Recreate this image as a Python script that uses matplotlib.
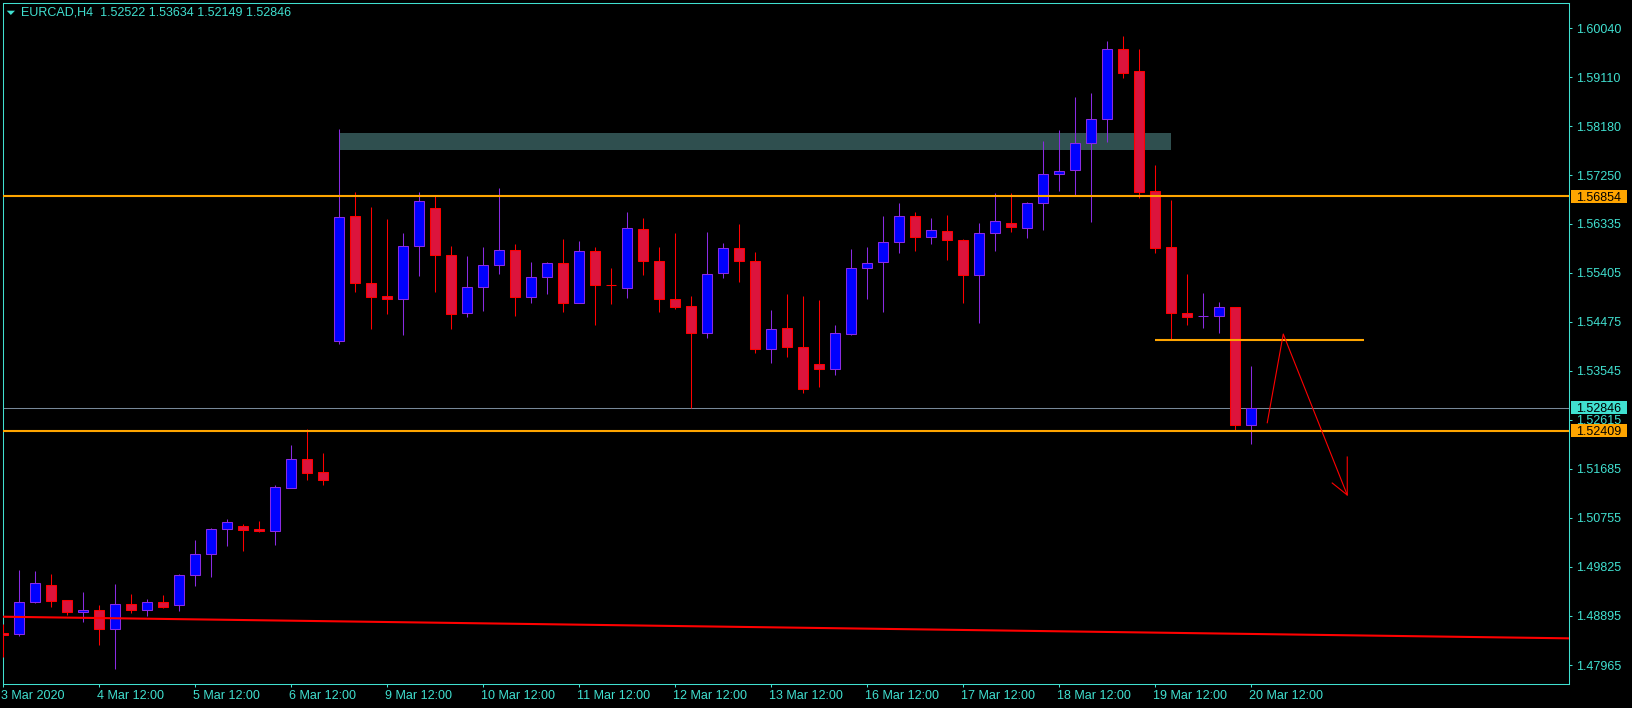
import matplotlib.pyplot as plt
from matplotlib.patches import Rectangle, Polygon
from matplotlib.transforms import blended_transform_factory

plt.rcParams["font.family"] = ["Liberation Sans", "DejaVu Sans"]

# EURCAD H4 bars, index 0 = 3 Mar 12:00 ... index 78 = 20 Mar 12:00
opens = [
    1.48566, 1.48547, 1.49154, 1.49482, 1.49192, 1.48964, 1.49008, 1.48653, 1.49122, 1.49014,
    1.49160, 1.49097, 1.49666, 1.50064, 1.50539, 1.50601, 1.50544, 1.50512, 1.51328, 1.51866,
    1.51620, 1.54104, 1.56475, 1.55204, 1.54957, 1.54901, 1.55906, 1.56626, 1.55735, 1.54635,
    1.55128, 1.55545, 1.55830, 1.54950, 1.55318, 1.55583, 1.54825, 1.55811, 1.55167, 1.55109,
    1.56228, 1.55621, 1.54901, 1.54773, 1.54267, 1.55405, 1.55868, 1.55621, 1.53952, 1.54351,
    1.53990, 1.53668, 1.53573, 1.54237, 1.55488, 1.55602, 1.55982, 1.56475, 1.56076, 1.56190,
    1.56019, 1.55356, 1.56152, 1.56342, 1.56247, 1.56721, 1.57271, 1.57347, 1.57859, 1.58314,
    1.59642, 1.59225, 1.56949, 1.55887, 1.54635, 1.54577, 1.54578, 1.54749, 1.52522,
]
highs = [
    1.48743, 1.49767, 1.49748, 1.49691, 1.49195, 1.49349, 1.49103, 1.49501, 1.49312, 1.49217,
    1.49293, 1.49691, 1.50336, 1.50558, 1.50734, 1.50639, 1.50696, 1.51379, 1.52137, 1.52441,
    1.51986, 1.58130, 1.56935, 1.56651, 1.56423, 1.56158, 1.56935, 1.56854, 1.55911, 1.55722,
    1.55892, 1.57011, 1.55949, 1.55608, 1.55608, 1.56044, 1.56006, 1.55892, 1.55494, 1.56556,
    1.56442, 1.55892, 1.56158, 1.54963, 1.56177, 1.55968, 1.56329, 1.55798, 1.54698, 1.55001,
    1.54963, 1.54887, 1.54413, 1.55854, 1.55892, 1.56480, 1.56727, 1.56556, 1.56442, 1.56499,
    1.56038, 1.56348, 1.56916, 1.56916, 1.56746, 1.57897, 1.58111, 1.58737, 1.58813, 1.59799,
    1.59894, 1.59647, 1.57447, 1.56784, 1.55380, 1.55020, 1.54849, 1.54755, 1.53634,
]
lows = [
    1.48111, 1.48521, 1.49135, 1.49071, 1.48913, 1.48786, 1.48350, 1.47895, 1.48957, 1.48894,
    1.49052, 1.48995, 1.49469, 1.49640, 1.50228, 1.50133, 1.50493, 1.50241, 1.51325, 1.51479,
    1.51384, 1.54047, 1.55045, 1.54337, 1.54627, 1.54229, 1.55348, 1.55045, 1.54337, 1.54571,
    1.54684, 1.55386, 1.54589, 1.54836, 1.55007, 1.54665, 1.54822, 1.54419, 1.54817, 1.54931,
    1.55367, 1.54665, 1.54722, 1.52833, 1.54172, 1.55310, 1.55234, 1.53888, 1.53687, 1.53812,
    1.53118, 1.53232, 1.53459, 1.54218, 1.54912, 1.54665, 1.55784, 1.55822, 1.55955, 1.55651,
    1.54836, 1.54457, 1.55822, 1.56183, 1.56069, 1.56220, 1.56960, 1.56879, 1.56372, 1.57889,
    1.59103, 1.56827, 1.55784, 1.54142, 1.54419, 1.54362, 1.54267, 1.52427, 1.52149,
]
closes = [
    1.48534, 1.49154, 1.49514, 1.49184, 1.48964, 1.49002, 1.48653, 1.49116, 1.49014, 1.49154,
    1.49071, 1.49666, 1.50064, 1.50539, 1.50671, 1.50531, 1.50506, 1.51335, 1.51866, 1.51612,
    1.51479, 1.56467, 1.55204, 1.54950, 1.54901, 1.55906, 1.56759, 1.55735, 1.54616, 1.55128,
    1.55545, 1.55830, 1.54950, 1.55318, 1.55583, 1.54825, 1.55811, 1.55166, 1.55165, 1.56247,
    1.55621, 1.54901, 1.54760, 1.54267, 1.55375, 1.55868, 1.55621, 1.53952, 1.54332, 1.53990,
    1.53194, 1.53573, 1.54256, 1.55488, 1.55583, 1.55982, 1.56475, 1.56076, 1.56209, 1.56019,
    1.55356, 1.56152, 1.56380, 1.56266, 1.56721, 1.57271, 1.57328, 1.57859, 1.58314, 1.59642,
    1.59198, 1.56941, 1.55879, 1.54635, 1.54559, 1.54579, 1.54749, 1.52522, 1.52846,
]

date_ticks = list(range(0, 79, 6))
date_labels = [
    "3 Mar 2020", "4 Mar 12:00", "5 Mar 12:00", "6 Mar 12:00", "9 Mar 12:00",
    "10 Mar 12:00", "11 Mar 12:00", "12 Mar 12:00", "13 Mar 12:00", "16 Mar 12:00",
    "17 Mar 12:00", "18 Mar 12:00", "19 Mar 12:00", "20 Mar 12:00",
]
price_ticks = [
    1.60040, 1.59110, 1.58180, 1.57250, 1.56335, 1.55405, 1.54475,
    1.53545, 1.52615, 1.51685, 1.50755, 1.49825, 1.48895, 1.47965,
]

# drawn objects
resistance = 1.56854
support = 1.52409
bid = 1.52846
minor_level = 1.54129
minor_span = [71.98, 85.04]
zone_prices = [1.57738, 1.58054]
zone_span = [21, 73]
ma_x = [-0.02, 97.86]
ma_y = [1.48881, 1.48471]
path_x = [79, 80, 84]
path_y = [1.52560, 1.54242, 1.51189]
head_x = [83.06, 84, 84]
head_y = [1.51417, 1.51189, 1.51910]

FG = "#40E0D0"
ORANGE = "#FFA500"
BULL_BODY, BULL_EDGE = "#0000FF", "#8A2BE2"
BEAR_BODY, BEAR_EDGE = "#DC143C", "#FF0000"

W, H = 1633, 708
fig = plt.figure(figsize=(W / 100, H / 100), dpi=100, facecolor="black")
# plot frame spans x 3..1569 px and y 3..684 px (from top)
ax = fig.add_axes([3 / W, (H - 684) / H, 1566 / W, 681 / H])
ax.set_facecolor("black")
ax.set_xlim(-0.02, 97.86)
ax.set_ylim(1.47605, 1.60520)

# zone rectangle behind the candles
ax.add_patch(Rectangle((zone_span[0], zone_prices[0]), zone_span[1] - zone_span[0],
                       zone_prices[1] - zone_prices[0], facecolor="#2F4F4F", lw=0, zorder=1))
ax.axhline(bid, color="#778899", lw=0.75, zorder=2)

# candles
body_w = 0.625
for i, (o, h, l, c) in enumerate(zip(opens, highs, lows, closes)):
    up = c >= o
    edge = BULL_EDGE if up else BEAR_EDGE
    ax.vlines(i, l, h, color=edge, lw=0.75, zorder=3)
    ax.add_patch(Rectangle((i - body_w / 2, min(o, c)), body_w, abs(c - o),
                           facecolor=BULL_BODY if up else BEAR_BODY,
                           edgecolor=edge, lw=0.75, zorder=3.5))

# lines over the chart
ax.axhline(resistance, color=ORANGE, lw=1.5, zorder=4)
ax.axhline(support, color=ORANGE, lw=1.5, zorder=4)
ax.hlines(minor_level, minor_span[0], minor_span[1], color=ORANGE, lw=1.5, zorder=4)
ax.plot(ma_x, ma_y, color="#FF0000", lw=1.5, zorder=4)
ax.plot(path_x, path_y, color="#FF0000", lw=0.8, zorder=4)
ax.plot(head_x, head_y, color="#FF0000", lw=0.8, zorder=4)

# axes styling
for spine in ax.spines.values():
    spine.set_color(FG)
    spine.set_linewidth(0.75)
ax.yaxis.tick_right()
ax.set_yticks(price_ticks, [f"{p:.5f}" for p in price_ticks])
ax.tick_params(axis="y", colors=FG, length=2.2, width=0.75, pad=3, labelsize=9)
ax.set_xticks(date_ticks, [""] * len(date_ticks))
ax.tick_params(axis="x", colors=FG, length=2.2, width=0.75)

xtrans = blended_transform_factory(ax.transData, ax.transAxes)
for pos, lab in zip(date_ticks, date_labels):
    ax.text(pos - 0.12, -12 / 681, lab, transform=xtrans, ha="left", va="center",
            color=FG, fontsize=9, clip_on=False)

# highlighted price labels on the right scale
ytrans = blended_transform_factory(ax.transAxes, ax.transData)
box_h = 13.4 * (1.60520 - 1.47605) / 681
for price, color in [(resistance, ORANGE), (bid, FG), (support, ORANGE)]:
    ax.add_patch(Rectangle((1 + 2 / 1566, price - box_h / 2), 56 / 1566, box_h,
                           transform=ytrans, facecolor=color, lw=0, clip_on=False, zorder=6))
    ax.text(1 + 7 / 1566, price, f"{price:.5f}", transform=ytrans, ha="left",
            va="center_baseline", color="black", fontsize=9, clip_on=False, zorder=7)

# header
fig.add_artist(Polygon([(6.7, H - 10.7), (15, H - 10.7), (10.85, H - 15)],
                       closed=True, transform=None, facecolor=FG, lw=0))
fig.text(21 / W, 1 - 12.5 / H, "EURCAD,H4  1.52522 1.53634 1.52149 1.52846",
         color=FG, fontsize=9, va="center", ha="left")

fig.savefig("out.png", dpi=100, facecolor="black")
